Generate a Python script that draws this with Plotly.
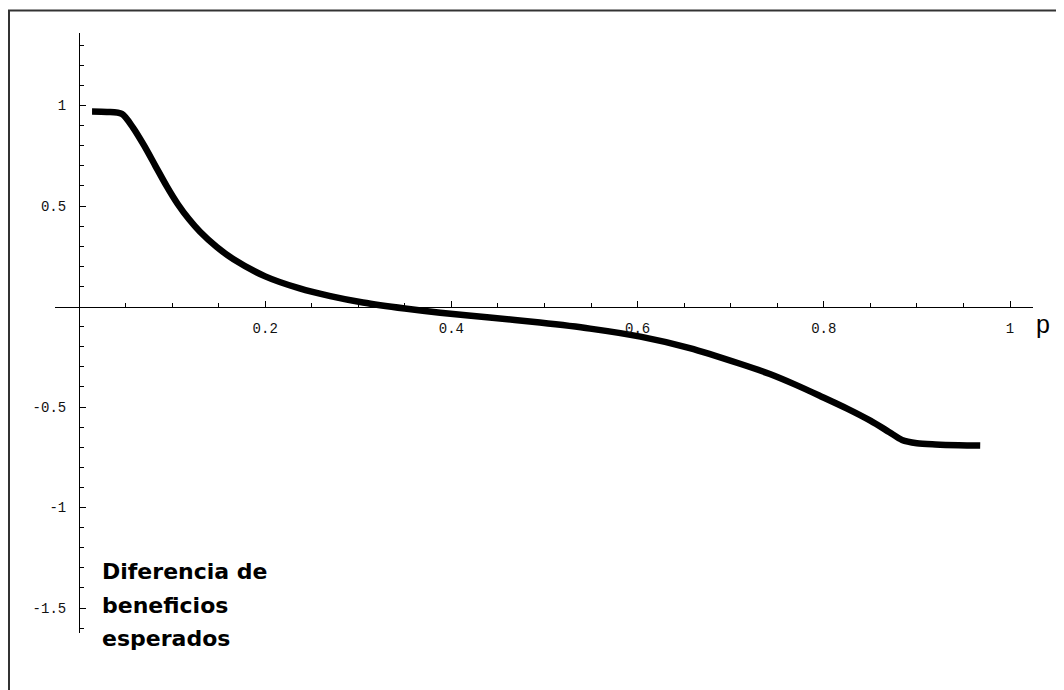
import plotly.graph_objects as go

# Data
p_vals = [0.014, 0.03, 0.046, 0.058, 0.07, 0.082, 0.094, 0.106, 0.118, 0.13, 0.148, 0.166,
          0.2, 0.237, 0.27, 0.305, 0.35, 0.388, 0.441, 0.495, 0.549, 0.603, 0.656,
          0.71, 0.742, 0.77, 0.796, 0.825, 0.85, 0.87, 0.884, 0.9, 0.92, 0.945, 0.968]
diff_vals = [0.97, 0.968, 0.958, 0.89, 0.80, 0.70, 0.60, 0.51, 0.435, 0.372, 0.296, 0.235,
             0.15, 0.09, 0.052, 0.02, -0.01, -0.031, -0.055, -0.08, -0.11, -0.15, -0.207,
             -0.285, -0.336, -0.39, -0.445, -0.508, -0.568, -0.624, -0.664, -0.68, -0.686,
             -0.69, -0.692]

x_tickvals = [0.2, 0.4, 0.6, 0.8, 1.0]
x_ticktext = ["0.2", "0.4", "0.6", "0.8", "1"]
x_minor = [0.05, 0.1, 0.15, 0.25, 0.3, 0.35, 0.45, 0.5, 0.55, 0.65, 0.7, 0.75, 0.85, 0.9, 0.95]
y_tickvals = [1.0, 0.5, -0.5, -1.0, -1.5]
y_ticktext = ["1", "0.5", "-0.5", "-1", "-1.5"]
y_minor = [-1.6, -1.4, -1.3, -1.2, -1.1, -0.9, -0.8, -0.7, -0.6, -0.4, -0.3, -0.2, -0.1,
           0.1, 0.2, 0.3, 0.4, 0.6, 0.7, 0.8, 0.9, 1.1, 1.2, 1.3]

label_lines = ["Diferencia de", "beneficios", "esperados"]
axis_label = "p"

# page body has an 8px margin, so the figure is 8px smaller each way
W, H = 1056, 682
OFF = 8


def px(v):
    return v / W


def py(v):
    return 1 - v / H


fig = go.Figure()
fig.add_trace(go.Scatter(
    x=p_vals, y=diff_vals, mode="lines",
    line=dict(color="black", width=6.5, shape="spline", smoothing=0.8),
    showlegend=False, hoverinfo="skip",
))

tickfont = dict(family="Liberation Mono, Courier New, monospace", size=14, color="#111")

fig.update_layout(
    width=W, height=H,
    margin=dict(l=0, r=0, t=0, b=0),
    paper_bgcolor="white", plot_bgcolor="white",
    xaxis=dict(
        domain=[px(55 - OFF), px(1033 - OFF)], range=[-0.02578, 1.02470],
        anchor="free", position=py(306.5 - OFF),
        showline=True, linecolor="black", linewidth=1,
        ticks="inside", ticklen=6, tickwidth=1, tickcolor="black",
        tickvals=x_tickvals, ticktext=x_ticktext, tickfont=tickfont,
        ticklabelstandoff=9,
        minor=dict(tickvals=x_minor, ticks="inside", ticklen=4, tickwidth=1, tickcolor="black"),
        showgrid=False, zeroline=False, fixedrange=True,
    ),
    yaxis=dict(
        domain=[py(633 - OFF), py(33 - OFF)], range=[-1.6244, 1.3607],
        anchor="free", position=px(79 - OFF), side="left",
        showline=True, linecolor="black", linewidth=1,
        ticks="inside", ticklen=6, tickwidth=1, tickcolor="black",
        tickvals=y_tickvals, ticktext=y_ticktext, tickfont=tickfont,
        ticklabelstandoff=10,
        minor=dict(tickvals=y_minor, ticks="inside", ticklen=4, tickwidth=1, tickcolor="black"),
        showgrid=False, zeroline=False, fixedrange=True,
    ),
)

# frame (top and left edges)
fig.add_shape(type="line", xref="paper", yref="paper",
              x0=0, x1=1.0, y0=py(2.5), y1=py(2.5),
              line=dict(color="#333", width=2))
fig.add_shape(type="line", xref="paper", yref="paper",
              x0=px(1), x1=px(1), y0=0, y1=py(2.5),
              line=dict(color="#333", width=2))

label_font = dict(family="DejaVu Sans, sans-serif", size=22, color="black")
for txt, ymid in zip(label_lines, [571, 605, 638]):
    fig.add_annotation(text="<b>" + txt + "</b>", xref="paper", yref="paper",
                       x=px(101 - OFF), y=py(ymid - OFF), xanchor="left", yanchor="middle",
                       showarrow=False, font=label_font, borderpad=0)

fig.add_annotation(text=axis_label, xref="paper", yref="paper",
                   x=px(1043 - OFF), y=py(324 - OFF), xanchor="center", yanchor="middle",
                   showarrow=False, borderpad=0,
                   font=dict(family="Liberation Sans, Arial, sans-serif", size=25, color="black"))

fig.write_html("out.html")
